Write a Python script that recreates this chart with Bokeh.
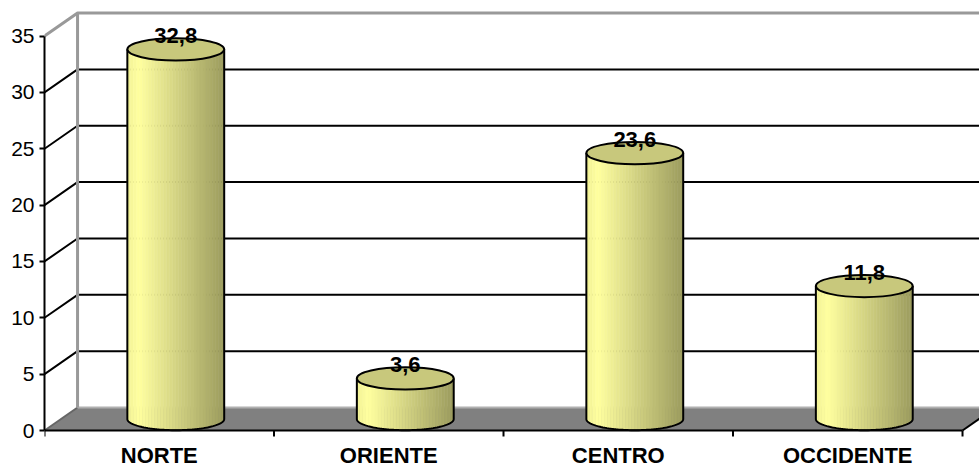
import numpy as np
from bokeh.plotting import figure
from bokeh.models import Range1d, FixedTicker, LinearAxis
from bokeh.core.properties import value
from bokeh.embed import file_html
from bokeh.resources import INLINE

# ---- data ----
categories = ["NORTE", "ORIENTE", "CENTRO", "OCCIDENTE"]
values = [32.8, 3.6, 23.6, 11.8]
y_ticks = [0, 5, 10, 15, 20, 25, 30, 35]
value_labels = [f"{v:.1f}".replace(".", ",") for v in values]

# ---- 3D geometry (in data units) ----
DX = 0.144      # depth offset along category axis
DY = 2.04       # depth offset along value axis
YMAX = 35
W = 0.211       # cylinder half width (category units)
EH = 0.99       # ellipse half height (value units)
XEND = 4.3
PX = 11.27      # pixels per value unit (used only for small tick lengths)

p = figure(width=979, height=467, output_backend="svg", toolbar_location=None,
           x_range=Range1d(0, 4.074), y_range=Range1d(-37 / PX, 430 / PX),
           min_border_left=44, min_border_right=0, min_border_top=0,
           min_border_bottom=0, x_axis_location=None, y_axis_location=None)
p.outline_line_color = None
p.background_fill_color = "white"
p.xgrid.visible = False
p.ygrid.visible = False

gray = "#999999"

# back wall (white) and floor
p.quad(left=[DX], right=[XEND], bottom=[DY], top=[YMAX + DY], fill_color="white", line_color=None)
p.patch(x=[0, 4, 4 + DX, XEND, XEND, DX], y=[0, 0, DY, DY, DY, DY],
        fill_color="#808080", line_color=None)
p.line(x=[0, DX], y=[0, DY], line_color="#666666", line_width=2)
p.line(x=[4, 4 + DX], y=[0, DY], line_color="#000000", line_width=2)
p.line(x=[DX, XEND], y=[DY, DY], line_color="#b0b0b0", line_width=2)

# grid lines on side wall and back wall
for t in y_ticks[1:-1]:
    p.line(x=[0, DX, XEND], y=[t, t + DY, t + DY], line_color="black", line_width=2)

# wall edges
p.line(x=[DX, DX], y=[DY, YMAX + DY], line_color=gray, line_width=3)
p.line(x=[0, DX, XEND], y=[YMAX, YMAX + DY, YMAX + DY], line_color=gray, line_width=3)

# ---- cylinders ----
def body_color(t):
    if t < 0.12:
        a, b, f = (242, 242, 150), (255, 255, 160), t / 0.12
    else:
        a, b, f = (255, 255, 160), (156, 156, 94), (t - 0.12) / 0.88
    c = [int(round(a[k] + (b[k] - a[k]) * f)) for k in range(3)]
    return "#%02x%02x%02x" % tuple(c)

NS = 32
xs, ys, cols = [], [], []
for i, v in enumerate(values):
    cx = i + 0.5 + DX / 2
    base = DY / 2
    top = v + DY / 2
    edges = np.linspace(cx - W, cx + W, NS + 1)
    for k in range(NS):
        xx = np.linspace(edges[k], edges[k + 1], 4)
        yb = base - EH * np.sqrt(np.clip(1 - ((xx - cx) / W) ** 2, 0, 1))
        xs.append(list(xx) + [edges[k + 1], edges[k]])
        ys.append(list(yb) + [top, top])
        cols.append(body_color((k + 0.5) / NS))
p.patches(xs=xs, ys=ys, fill_color=cols, line_color=cols, line_width=0.6)

for i, v in enumerate(values):
    cx = i + 0.5 + DX / 2
    base = DY / 2
    top = v + DY / 2
    ang = np.linspace(np.pi, 2 * np.pi, 60)
    p.line(x=list(cx + W * np.cos(ang)), y=list(base + EH * np.sin(ang)),
           line_color="black", line_width=2)
    p.line(x=[cx - W, cx - W], y=[base, top], line_color="black", line_width=2)
    p.line(x=[cx + W, cx + W], y=[base, top], line_color="black", line_width=2)

cxs = [i + 0.5 + DX / 2 for i in range(len(values))]
tops = [v + DY / 2 for v in values]
p.ellipse(x=cxs, y=tops, width=2 * W, height=2 * EH, fill_color="#c8c87c",
          line_color="black", line_width=2)
p.text(x=cxs, y=tops, text=value_labels, text_align="center", text_baseline="middle",
       y_offset=-14, text_font=value("Liberation Sans"), text_font_style="bold",
       text_font_size="22px", text_color="black")

# ---- value axis (left) ----
yax = LinearAxis(ticker=FixedTicker(ticks=y_ticks), bounds=(0, YMAX))
yax.axis_line_color = "black"
yax.axis_line_width = 2
yax.major_tick_out = 5
yax.major_tick_in = 0
yax.major_tick_line_width = 2
yax.minor_tick_line_color = None
yax.major_label_standoff = 5
yax.major_label_text_font = "Liberation Sans"
yax.major_label_text_font_size = "21px"
yax.major_label_text_color = "black"
p.add_layout(yax, "left")

# ---- category axis (drawn in the frame) ----
n = len(categories)
centers = [i + 0.5 for i in range(n)]
bounds = list(range(n + 1))
p.line(x=[0, n], y=[0, 0], line_color="black", line_width=2)
p.segment(x0=bounds, y0=[0] * len(bounds), x1=bounds, y1=[-6 / PX] * len(bounds),
          line_color="black", line_width=2)
p.text(x=centers, y=[0] * n, text=categories, text_align="center",
       text_baseline="middle", y_offset=25, text_font=value("Liberation Sans"),
       text_font_style="bold", text_font_size="22px", text_color="black")

open("out.html", "w").write(file_html(p, INLINE))
